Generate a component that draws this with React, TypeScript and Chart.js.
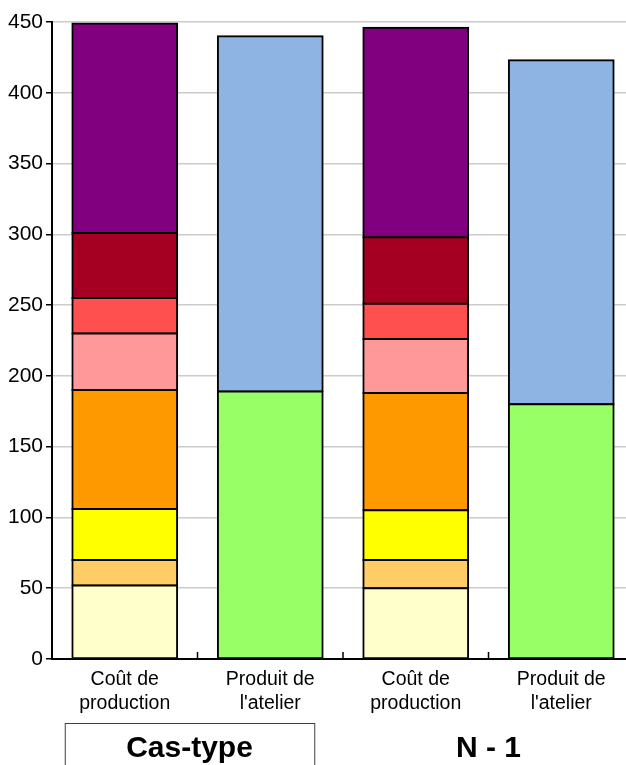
import React, { useEffect, useRef } from "react";
import { Chart, registerables } from "chart.js";

Chart.register(...registerables);

const categories: string[][] = [
  ["Coût de", "production"],
  ["Produit de", "l'atelier"],
  ["Coût de", "production"],
  ["Produit de", "l'atelier"],
];
const groupLabels = ["Cas-type", "N - 1"];
const yMax = 450;
const yStep = 50;

// cost segments (bottom to top), only on "Coût de production" bars
const costCream = [52, null, 50, null];
const costLightOrange = [18, null, 20, null];
const costYellow = [36, null, 35, null];
const costOrange = [84, null, 83, null];
const costPink = [40, null, 38, null];
const costRed = [25, null, 25, null];
const costDarkRed = [46, null, 47, null];
const costPurple = [148, null, 148, null];
// product segments, only on "Produit de l'atelier" bars
const prodGreen = [null, 189, null, 180];
const prodBlue = [null, 251, null, 243];

const FONT = "'Liberation Sans', Arial, sans-serif";

export default function App() {
  const ref = useRef<HTMLCanvasElement | null>(null);

  useEffect(() => {
    if (!ref.current) return;
    const mk = (label: string, data: (number | null)[], color: string) => ({
      label,
      data,
      backgroundColor: color,
      borderColor: "#000000",
      borderWidth: 2,
      borderSkipped: false as const,
      inflateAmount: 1,
      barPercentage: 0.72,
      categoryPercentage: 1,
    });

    const decorations = {
      id: "decorations",
      afterDraw(chart: any) {
        const ctx = chart.ctx as CanvasRenderingContext2D;
        const xs = chart.scales.x;
        const area = chart.chartArea;
        const n = categories.length;
        ctx.save();
        // inward ticks between categories
        ctx.strokeStyle = "#000";
        ctx.lineWidth = 1.5;
        for (let i = 0; i < n - 1; i++) {
          const xb = (xs.getPixelForValue(i) + xs.getPixelForValue(i + 1)) / 2;
          ctx.beginPath();
          ctx.moveTo(xb, area.bottom);
          ctx.lineTo(xb, area.bottom - 7);
          ctx.stroke();
        }
        // group labels
        ctx.fillStyle = "#000";
        ctx.font = `bold 30px ${FONT}`;
        ctx.textAlign = "center";
        ctx.textBaseline = "middle";
        const ty = area.bottom + 90;
        groupLabels.forEach((g, gi) => {
          const c0 = xs.getPixelForValue(gi * 2);
          const c1 = xs.getPixelForValue(gi * 2 + 1);
          let cx = (c0 + c1) / 2;
          if (gi === 0) {
            const left = c0 - 60;
            const right = c1 + 44;
            cx = (left + right) / 2;
            ctx.strokeStyle = "#404040";
            ctx.lineWidth = 1;
            ctx.strokeRect(left + 0.5, area.bottom + 64.5, right - left, 60);
          }
          ctx.fillText(g, cx, ty);
        });
        ctx.restore();
      },
    };

    const chart = new Chart(ref.current, {
      type: "bar",
      data: {
        labels: categories,
        datasets: [
          mk("Poste 1", costCream, "#FFFFCC"),
          mk("Poste 2", costLightOrange, "#FFCC66"),
          mk("Poste 3", costYellow, "#FFFF00"),
          mk("Poste 4", costOrange, "#FF9900"),
          mk("Poste 5", costPink, "#FF9999"),
          mk("Poste 6", costRed, "#FF5050"),
          mk("Poste 7", costDarkRed, "#A50021"),
          mk("Poste 8", costPurple, "#800080"),
          mk("Produit 1", prodGreen, "#99FF66"),
          mk("Produit 2", prodBlue, "#8DB4E2"),
        ],
      },
      options: {
        responsive: false,
        animation: false,
        layout: { padding: { top: 22, right: 0, left: 0, bottom: 0 } },
        plugins: {
          legend: { display: false },
          tooltip: { enabled: false },
        },
        scales: {
          x: {
            stacked: true,
            grid: { display: false, drawTicks: false },
            border: { color: "#000", width: 2 },
            ticks: {
              color: "#000",
              padding: 8,
              maxRotation: 0,
              autoSkip: false,
              font: { family: FONT, size: 19.5, lineHeight: 1.25 },
            },
            afterFit(scale: any) {
              scale.height = 106;
            },
          },
          y: {
            stacked: true,
            min: 0,
            max: yMax,
            grid: {
              color: "#CCCCCC",
              lineWidth: 1.5,
              drawTicks: true,
              tickLength: 6,
              tickColor: "#000",
            },
            border: { color: "#000", width: 2 },
            ticks: {
              stepSize: yStep,
              color: "#000",
              padding: 3,
              font: { family: FONT, size: 21 },
            },
            afterFit(scale: any) {
              scale.width = 52;
            },
          },
        },
      },
      plugins: [decorations],
    });
    return () => chart.destroy();
  }, []);

  return (
    <div
      style={{
        position: "absolute",
        left: 0,
        top: 0,
        width: 626,
        height: 765,
        overflow: "hidden",
        background: "#fff",
      }}
    >
      <canvas ref={ref} width={634} height={765} style={{ width: 634, height: 765 }} />
    </div>
  );
}
